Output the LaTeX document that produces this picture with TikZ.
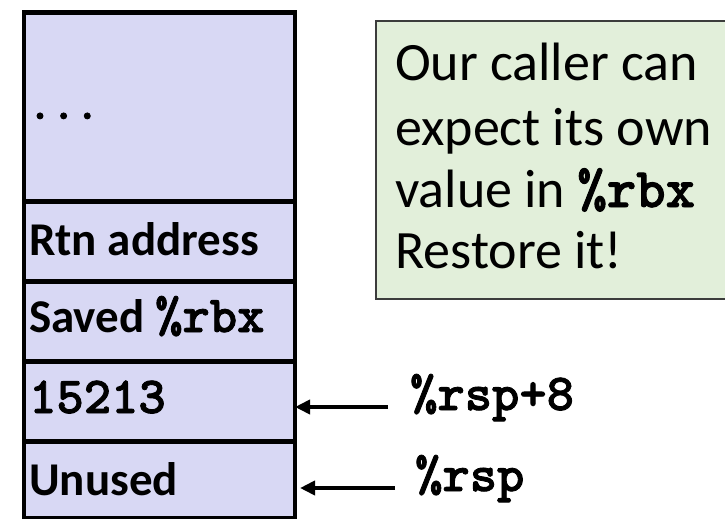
\documentclass[tikz,border=0pt]{standalone}
\usepackage{fontspec}
\setmainfont{Carlito}
\newfontfamily\cfont{lmmonolt10-bold.otf}[FakeBold=1.6]
\usetikzlibrary{arrows.meta}
\definecolor{stackfill}{RGB}{216,216,244}
\definecolor{notefill}{RGB}{226,239,218}
\definecolor{noteedge}{RGB}{60,60,60}
\tikzset{
  cell/.style={draw=black, line width=4.5pt, fill=stackfill, minimum width=271pt, anchor=north west, inner sep=0pt},
  lbl/.style={anchor=base west, inner sep=0pt, font=\fontsize{47}{54}\selectfont\bfseries},
  codelbl/.style={anchor=base west, inner sep=0pt, font=\fontsize{52}{60}\selectfont\cfont},
  notetxt/.style={anchor=base west, inner sep=0pt, font=\fontsize{54}{62}\selectfont},
  ptr/.style={line width=4.5pt, -{Triangle[length=15pt, width=14pt]}}
}
\begin{document}
\begin{tikzpicture}[x=1pt, y=-1pt]
\clip (0,0) rectangle (725,519);
\fill[white] (0,0) rectangle (725,519);
% stack cells
\node[cell, minimum height=188.5pt] (c0) at (21.5,10.5) {};
\node[cell, minimum height=80pt] (c1) at (21.5,199) {};
\node[cell, minimum height=80pt] (c2) at (21.5,279) {};
\node[cell, minimum height=80pt] (c3) at (21.5,359) {};
\node[cell, minimum height=77pt] (c4) at (21.5,439) {};
% stack labels
\node[anchor=base west, inner sep=0pt, font=\fontsize{45}{50}\selectfont\cfont] (t0) at (28,119) {...};
\node[lbl] (t1) at (29,255) {Rtn address};
\node[lbl] (t2) at (29,332) {Saved {\fontsize{52}{60}\selectfont\cfont\%rbx}};
\node[codelbl] (t3) at (29,413) {15213};
\node[lbl] (t4) at (29,495) {Unused};
% note box
\node[draw=noteedge, line width=1.5pt, fill=notefill, anchor=north west, minimum width=370pt, minimum height=277.5pt, inner sep=0pt] (note) at (375,20.5) {};
\node[notetxt] (n1) at (395,80) {Our caller can};
\node[notetxt] (n2) at (395,145) {expect its own};
\node[notetxt] (n3) at (395,207) {value in {\fontsize{56}{62}\selectfont\cfont\%rbx}};
\node[notetxt] (n4) at (395,268) {Restore it!};
% pointers
\node[codelbl] (p1) at (410,410) {\%rsp+8};
\node[codelbl] (p2) at (415,491) {\%rsp};
\coordinate (a1s) at (388,407);
\coordinate (a1e) at (295,407);
\coordinate (a2s) at (395,488);
\coordinate (a2e) at (300,488);
\draw[ptr] (a1s) -- (a1e);
\draw[ptr] (a2s) -- (a2e);
\end{tikzpicture}
\end{document}
